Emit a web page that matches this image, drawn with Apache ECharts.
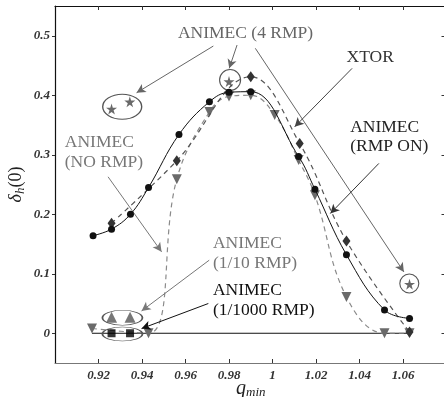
<!DOCTYPE html>
<html><head><meta charset="utf-8">
<script src="https://cdn.jsdelivr.net/npm/echarts@6/dist/echarts.min.js"></script>
<style>html,body{margin:0;padding:0;background:#fff}#c{width:444px;height:397px}</style>
</head><body><div id="c"></div>
<script>
// ---- data ----
const xTickValues = [0.92, 0.94, 0.96, 0.98, 1.00, 1.02, 1.04, 1.06];
const yTickValues = [0, 0.1, 0.2, 0.3, 0.4, 0.5];
const rmpOn = [[0.9175,0.164],[0.926,0.175],[0.9347,0.200],[0.943,0.245],[0.957,0.334],[0.971,0.389],[0.980,0.405],[0.990,0.406],[1.012,0.297],[1.0195,0.242],[1.034,0.132],[1.0515,0.039],[1.063,0.025]];
const xtor = [[0.926,0.185],[0.956,0.290],[0.990,0.431],[1.0125,0.319],[1.034,0.155],[1.063,0.002]];
const noRmp = [[0.917,0.008],[0.943,0.000],[0.956,0.259],[0.971,0.372],[0.980,0.398],[0.990,0.400],[1.001,0.367],[1.012,0.291],[1.0195,0.232],[1.034,0.061],[1.0515,0.000],[1.063,0.000]];
const rmp4 = [[0.926,0.377],[0.9344,0.389],[0.980,0.423],[1.063,0.0825]];
const rmp10 = [[0.926,0.027],[0.9345,0.027]];
const rmp1000 = [[0.926,0.000],[0.9345,0.000]];
const zeroLine = [[0.917,0],[1.063,0]];

// annotations (data coordinates)
const labels = [
  {lines:['ANIMEC (4 RMP)'], at:[0.9876,0.504], align:'center', color:'#666'},
  {lines:['XTOR'], at:[1.0449,0.464], align:'center', color:'#333'},
  {lines:['ANIMEC','(RMP ON)'], at:[1.0357,0.3465], align:'left', color:'#222'},
  {lines:['ANIMEC','(NO RMP)'], at:[0.9045,0.3204], align:'left', color:'#777'},
  {lines:['ANIMEC','(1/10 RMP)'], at:[0.9726,0.1505], align:'left', color:'#777'},
  {lines:['ANIMEC','(1/1000 RMP)'], at:[0.9726,0.0715], align:'left', color:'#111'}
];
const arrows = [
  {from:[0.9728,0.4827], to:[0.9375,0.4042], color:'#666'},
  {from:[0.9837,0.4844], to:[0.9801,0.4452], color:'#666'},
  {from:[0.9921,0.4789], to:[1.0604,0.1031], color:'#666'},
  {from:[1.0366,0.4452], to:[1.0102,0.3470], color:'#444'},
  {from:[1.0489,0.2854], to:[1.0266,0.2013], color:'#333'},
  {from:[0.9244,0.2629], to:[0.9490,0.1368], color:'#777'},
  {from:[0.9709,0.1228], to:[0.9398,0.0375], color:'#777'},
  {from:[0.9705,0.0500], to:[0.9398,0.0079], color:'#111'}
];
const rings = [
  {at:[0.9309,0.3807], size:[39,25]},
  {at:[0.9805,0.4256], size:[21,21]},
  {at:[1.0629,0.0836], size:[19,19]},
  {at:[0.931,0.0261], size:[40,15]},
  {at:[0.931,-0.0012], size:[40,14]}
];

const STAR = 'path://M50,0 L61,35 L98,35 L68,57 L79,91 L50,70 L21,91 L32,57 L2,35 L39,35 Z';
const fmt = v => String(+(+v).toFixed(2));
const tickFont = {fontFamily:'Liberation Serif', fontStyle:'italic', fontWeight:'bold', fontSize:13, color:'#333'};

const chart = echarts.init(document.getElementById('c'), null, {renderer:'canvas'});
const option = {
  animation:false,
  backgroundColor:'#fff',
  grid:{left:55, top:6, width:391.5, height:357, containLabel:false, outerBoundsMode:'none'},
  xAxis:[
    {type:'value', min:0.90, max:1.08, position:'bottom',
     axisLine:{onZero:false, lineStyle:{color:'#777', width:1.2}},
     axisTick:{inside:true, length:4, customValues:xTickValues, lineStyle:{color:'#333'}},
     axisLabel:Object.assign({customValues:xTickValues, formatter:fmt, margin:6}, tickFont),
     splitLine:{show:false},
     name:'{q|q}{s|min}', nameLocation:'middle', nameGap:15, nameMoveOverlap:false,
     nameTextStyle:{rich:{q:{fontFamily:'Liberation Serif', fontStyle:'italic', fontSize:20, color:'#222'}, s:{fontFamily:'Liberation Serif', fontStyle:'italic', fontSize:13, color:'#222', padding:[8,0,0,0]}}}},
    {type:'value', min:0.90, max:1.08, position:'top',
     axisLine:{onZero:false, lineStyle:{color:'#111', width:1.2}},
     axisTick:{inside:true, length:4, customValues:xTickValues, lineStyle:{color:'#333'}},
     axisLabel:{show:false}, splitLine:{show:false}}
  ],
  yAxis:[
    {type:'value', min:-0.05, max:0.55, position:'left',
     axisLine:{onZero:false, lineStyle:{color:'#111', width:1.2}},
     axisTick:{inside:false, length:3, customValues:yTickValues, lineStyle:{color:'#333'}},
     axisLabel:Object.assign({customValues:yTickValues, formatter:fmt, margin:5}, tickFont),
     splitLine:{show:false},
     name:'{d|δ}{h|h}{p|(0)}', nameLocation:'middle', nameGap:28, nameRotate:90, nameMoveOverlap:false,
     nameTextStyle:{rich:{d:{fontFamily:'Liberation Serif', fontStyle:'italic', fontSize:18, color:'#222'}, h:{fontFamily:'Liberation Serif', fontStyle:'italic', fontSize:13, color:'#222', padding:[8,0,0,0]}, p:{fontFamily:'Liberation Serif', fontSize:18, color:'#222'}}}},
    {type:'value', min:-0.05, max:0.55, position:'right',
     axisLine:{onZero:false, lineStyle:{color:'#111', width:1.2}},
     axisTick:{inside:true, length:5, customValues:yTickValues, lineStyle:{color:'#333'}},
     axisLabel:{show:false}, splitLine:{show:false}}
  ],
  series:[
    {name:'zero', type:'line', data:zeroLine, symbol:'none', lineStyle:{color:'#111', width:1}, z:2,
     markLine:{silent:true, animation:false, symbol:['none','arrow'], symbolSize:[7,9], label:{show:false},
       data: arrows.map(a => [{coord:a.from, lineStyle:{color:a.color, width:1, type:'solid'}}, {coord:a.to}])},
     markPoint:{silent:true, animation:false, label:{show:false},
       data: rings.map(r => ({coord:r.at, symbol:'circle', symbolSize:r.size, itemStyle:{color:'rgba(0,0,0,0)', borderColor:'#555', borderWidth:1.1}}))}},
    {name:'ANIMEC (NO RMP)', type:'line', data:noRmp, smooth:0.4, symbol:'triangle', symbolRotate:180, symbolSize:10,
     itemStyle:{color:'#6a6a6a'}, lineStyle:{color:'#8a8a8a', width:1.2, type:[5,4]}, z:3},
    {name:'XTOR', type:'line', data:xtor, smooth:0.4, symbol:'diamond', symbolSize:[8,11],
     itemStyle:{color:'#333'}, lineStyle:{color:'#555', width:1.2, type:[5,4]}, z:4},
    {name:'ANIMEC (RMP ON)', type:'line', data:rmpOn, smooth:0.4, symbol:'circle', symbolSize:7,
     itemStyle:{color:'#111'}, lineStyle:{color:'#111', width:1}, z:5},
    {name:'ANIMEC (4 RMP)', type:'scatter', data:rmp4, symbol:STAR, symbolSize:11, itemStyle:{color:'#444'}, z:6},
    {name:'ANIMEC (1/10 RMP)', type:'scatter', data:rmp10, symbol:'triangle', symbolSize:11, itemStyle:{color:'#555'}, z:6},
    {name:'ANIMEC (1/1000 RMP)', type:'scatter', data:rmp1000, symbol:'rect', symbolSize:8, itemStyle:{color:'#000'}, z:6}
  ]
};
chart.setOption(option);

// text annotations positioned via the chart's own scales
const graphics = [];
labels.forEach(l => {
  const p = chart.convertToPixel({gridIndex:0}, l.at);
  l.lines.forEach((t, i) => {
    graphics.push({type:'text', x:p[0], y:p[1] + i*19.5, z:10,
      style:{text:t, fill:l.color, font:'17.5px "Liberation Serif"', textAlign:l.align, textVerticalAlign:'middle'}});
  });
});
chart.setOption({graphic:graphics});
</script>
</body></html>
